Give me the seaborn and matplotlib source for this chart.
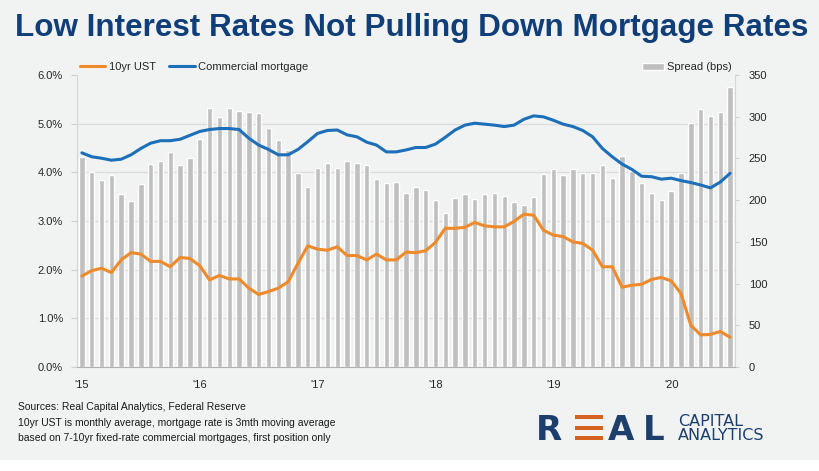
import numpy as np
import pandas as pd
import matplotlib
matplotlib.use("Agg")
import matplotlib.pyplot as plt
import seaborn as sns
from matplotlib.ticker import FixedLocator, FuncFormatter
from matplotlib.patches import Rectangle
from matplotlib.transforms import IdentityTransform

# monthly, Jan 2015 .. Jul 2020
year_labels = ["'15", "'16", "'17", "'18", "'19", "'20"]

ust_10yr = [1.87, 1.98, 2.03, 1.94, 2.20, 2.35, 2.32, 2.17, 2.17, 2.06, 2.25, 2.23,
            2.08, 1.79, 1.88, 1.81, 1.81, 1.62, 1.49, 1.55, 1.62, 1.75, 2.13, 2.49,
            2.42, 2.40, 2.47, 2.29, 2.29, 2.20, 2.32, 2.20, 2.20, 2.36, 2.35, 2.39,
            2.56, 2.85, 2.85, 2.87, 2.97, 2.90, 2.88, 2.88, 2.99, 3.14, 3.12, 2.81,
            2.71, 2.68, 2.57, 2.54, 2.40, 2.06, 2.06, 1.64, 1.68, 1.70, 1.80, 1.84,
            1.77, 1.51, 0.86, 0.66, 0.67, 0.73, 0.61]

commercial_mortgage = [4.40, 4.32, 4.29, 4.25, 4.27, 4.36, 4.49, 4.60, 4.65, 4.65, 4.68, 4.76,
                       4.84, 4.88, 4.90, 4.90, 4.88, 4.70, 4.56, 4.47, 4.36, 4.36, 4.47, 4.63,
                       4.80, 4.86, 4.87, 4.77, 4.73, 4.62, 4.56, 4.42, 4.42, 4.46, 4.51, 4.51,
                       4.58, 4.72, 4.87, 4.97, 5.01, 4.99, 4.97, 4.94, 4.97, 5.09, 5.16, 5.14,
                       5.07, 4.99, 4.94, 4.86, 4.73, 4.49, 4.32, 4.17, 4.06, 3.92, 3.91, 3.86,
                       3.88, 3.83, 3.79, 3.74, 3.68, 3.80, 3.98]

spread_bps = [252, 234, 224, 230, 207, 199, 219, 243, 247, 258, 242, 251,
              273, 310, 300, 310, 307, 306, 305, 286, 272, 260, 233, 216,
              238, 244, 239, 247, 244, 242, 225, 221, 222, 209, 216, 212,
              200, 184, 203, 207, 201, 207, 208, 205, 198, 194, 204, 231,
              237, 230, 237, 233, 232, 242, 227, 253, 235, 220, 209, 200,
              211, 232, 293, 309, 301, 306, 336]

month = np.arange(len(spread_bps))
df = pd.DataFrame({"month": month, "ust": ust_10yr,
                   "cm": commercial_mortgage, "spread": spread_bps})

BG = "#F1F2F2"
ORANGE = "#EE8A2A"
BLUE = "#1C6FB8"
BAR = "#BFBFBF"
NAVY = "#0F3E78"
TXT = "#262626"

sns.set_style("white")
plt.rcParams["font.family"] = ["Liberation Sans", "DejaVu Sans"]
plt.rcParams["font.size"] = 8

W, H = 820, 471
fig = plt.figure(figsize=(W / 100, H / 100), dpi=100, facecolor=BG)
ax = fig.add_axes([77 / W, 1 - 367 / H, (735 - 77) / W, (367 - 75) / H])
ax2 = ax.twinx()

# bars on the right axis, lines on the left axis drawn on top
sns.barplot(data=df, x="month", y="spread", ax=ax2, color=BAR, width=0.55,
            saturation=1, label="Spread (bps)")
sns.lineplot(data=df, x="month", y="ust", ax=ax, color=ORANGE, lw=2.2, label="10yr UST")
sns.lineplot(data=df, x="month", y="cm", ax=ax, color=BLUE, lw=2.2, label="Commercial mortgage")

ax.set_zorder(ax2.get_zorder() + 1)
ax.patch.set_visible(False)
ax2.patch.set_visible(True)
ax2.patch.set_facecolor(BG)

ax.set_xlim(-0.5, len(month) - 0.5)
ax.set_ylim(0, 6)
ax2.set_ylim(0, 350)
ax.set_xlabel("")
ax.set_ylabel("")
ax2.set_ylabel("")

ax.set_yticks(np.arange(0, 7))
ax.yaxis.set_major_formatter(FuncFormatter(lambda v, p: f"{v:.1f}%"))
ax2.set_yticks(np.arange(0, 351, 50))

# gridlines behind bars
ax2.yaxis.set_minor_locator(FixedLocator(np.linspace(0, 350, 7)))
ax2.grid(which="minor", axis="y", color="#DCDCDC", lw=0.9)
ax2.tick_params(axis="y", which="minor", length=0)

jan = month[::12]
ax.set_xticks(jan, labels=year_labels)
ax.xaxis.set_minor_locator(FixedLocator(jan - 0.5))
ax.tick_params(axis="x", which="major", length=0, pad=9, labelsize=8, labelcolor=TXT)
ax.tick_params(axis="x", which="minor", length=4, color="#A6A6A6", width=0.8)
ax.tick_params(axis="y", length=4, color="#D0D0D0", pad=6, labelsize=8, labelcolor=TXT)
ax2.tick_params(axis="y", which="major", length=3, color="#D0D0D0", pad=7,
                labelsize=8, labelcolor=TXT)

for s in ["top", "right"]:
    ax.spines[s].set_visible(False)
ax.spines["left"].set_color("#D6D6D6")
ax.spines["bottom"].set_color("#B0B0B0")
for s in ["top", "left", "bottom"]:
    ax2.spines[s].set_visible(False)
ax2.spines["right"].set_color("#D6D6D6")

# legends
h1, l1 = ax.get_legend_handles_labels()
ax.legend(h1, l1, loc="lower left", bbox_to_anchor=(0, 1.0), ncol=2, frameon=False,
          fontsize=8, handlelength=2.3, handletextpad=0.3, columnspacing=1.2,
          borderaxespad=0.15, borderpad=0.1, labelcolor=TXT)
h2, l2 = ax2.get_legend_handles_labels()
ax2.legend(h2, l2, loc="lower right", bbox_to_anchor=(1, 1.0), frameon=False,
           fontsize=8, handlelength=2.0, handleheight=0.6, handletextpad=0.3,
           borderaxespad=0.15, borderpad=0.1, labelcolor=TXT)

# title
fig.text(412 / W, 1 - 36 / H, "Low Interest Rates Not Pulling Down Mortgage Rates",
         ha="center", va="baseline", fontsize=22.6, fontweight="bold", color=NAVY)

# footer
notes = ["Sources: Real Capital Analytics, Federal Reserve",
         "10yr UST is monthly average, mortgage rate is 3mth moving average",
         "based on 7-10yr fixed-rate commercial mortgages, first position only"]
for i, line in enumerate(notes):
    fig.text(18 / W, 1 - (407 + 15.5 * i) / H, line, ha="left", va="center",
             fontsize=7.5, color="#1A1A1A")

# white strip at the bottom
fig.add_artist(Rectangle((0, 0), W, 11, facecolor="white", edgecolor="none",
                         transform=IdentityTransform()))

# logo
LOGO_NAVY = "#1C3F6E"
LOGO_ORANGE = "#D6621F"
logo_font = dict(family="DejaVu Sans", va="baseline", ha="left", color=LOGO_NAVY)
fig.text(536 / W, 1 - 440 / H, "R", fontsize=24.5, fontweight="bold", **logo_font)
for yt in [415, 425.7, 436]:
    fig.add_artist(Rectangle((575, H - yt - 4.2), 28, 4.2, facecolor=LOGO_ORANGE,
                             edgecolor="none", transform=IdentityTransform()))
fig.text(608 / W, 1 - 440 / H, "A", fontsize=24.5, fontweight="bold", **logo_font)
fig.text(643 / W, 1 - 440 / H, "L", fontsize=24.5, fontweight="bold", **logo_font)
fig.text(678 / W, 1 - 425.5 / H, "CAPITAL", fontsize=11.5, **logo_font)
fig.text(678 / W, 1 - 440 / H, "ANALYTICS", fontsize=11.5, **logo_font)

fig.savefig("out.png", dpi=100, facecolor=BG)
